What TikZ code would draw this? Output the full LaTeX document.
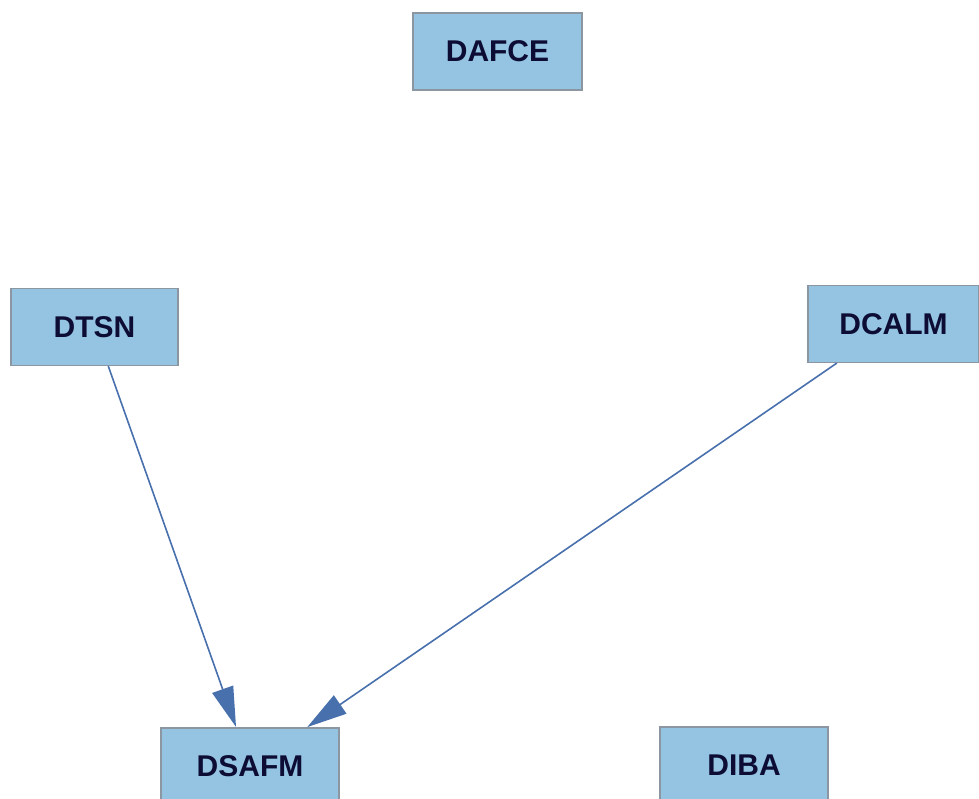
\documentclass[tikz,border=0pt]{standalone}
\usepackage{fontspec}
\setmainfont{Liberation Sans}
\usetikzlibrary{arrows.meta}
\definecolor{boxfill}{RGB}{148,196,225}
\definecolor{boxline}{RGB}{140,150,160}
\definecolor{boxtext}{RGB}{12,12,52}
\definecolor{edgeblue}{RGB}{72,112,172}
\tikzset{
  box/.style={draw=boxline, line width=1.2pt, fill=boxfill, text=boxtext,
    font=\fontsize{30}{32}\selectfont\bfseries, minimum height=77pt,
    inner sep=0pt, anchor=center},
  link/.style={draw=edgeblue, line width=1.6pt,
    -{Triangle[length=40pt,width=22pt]}, shorten >=0.5pt}
}
\begin{document}
\begin{tikzpicture}[x=1pt,y=-1pt]
  \useasboundingbox (0,0) rectangle (979,799);
  \node[box, minimum width=169pt] (dafce) at (497.5,51.5) {DAFCE};
  \node[box, minimum width=167pt] (dtsn)  at (94.5,327) {DTSN};
  \node[box, minimum width=171pt] (dcalm) at (893.5,324) {DCALM};
  \node[box, minimum width=178pt] (dsafm) at (250,766.5) {DSAFM};
  \node[box, minimum width=168pt] (diba)  at (744,765.5) {DIBA};
  \draw[link] (dtsn) -- (dsafm);
  \draw[link] (dcalm) -- (dsafm);
\end{tikzpicture}
\end{document}
